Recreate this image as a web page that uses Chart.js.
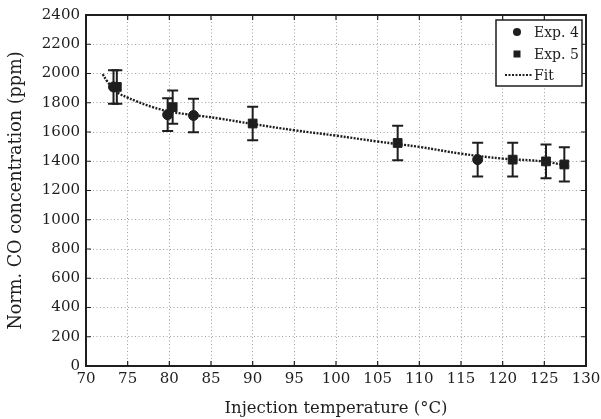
<!DOCTYPE html>
<html>
<head>
<meta charset="utf-8">
<script src="https://cdn.jsdelivr.net/npm/chart.js@4/dist/chart.umd.min.js"></script>
<style>
  html, body { margin: 0; padding: 0; background: #fff; }
  #wrap { width: 601px; height: 419px; }
</style>
</head>
<body>
<div id="wrap"><canvas id="chart"></canvas></div>
<script>
// Exp. 4 (circles)
const exp4Temp = [73.3, 79.8, 82.9, 117.0];
const exp4CO = [1908, 1718, 1713, 1411];
const exp4Err = [114, 112, 115, 116];

// Exp. 5 (squares)
const exp5Temp = [73.7, 80.4, 90.0, 107.4, 121.2, 125.2, 127.4];
const exp5CO = [1908, 1770, 1658, 1525, 1411, 1399, 1378];
const exp5Err = [114, 114, 114, 118, 116, 115, 117];

// Fit curve
const fitTemp = [72, 72.5, 73, 73.5, 74, 75, 76, 78, 80, 82, 84, 86, 90, 95, 100, 105, 110, 115, 120, 125, 128];
const fitCO = [1995, 1950, 1915, 1885, 1862, 1835, 1811, 1770, 1740, 1722, 1708, 1692, 1655, 1612, 1575, 1535, 1498, 1452, 1418, 1398, 1365];

const legendLabels = ["Exp. 4", "Exp. 5", "Fit"];

const FONT = "'DejaVu Serif', serif";
const INK = "#1e1e1e";

const toPoints = (xs, ys) => xs.map((x, i) => ({ x: x, y: ys[i] }));

// error bars drawn through the scales
const errorBars = {
    id: "errorBars",
    afterDatasetsDraw(chart) {
        const { ctx, scales: { x, y } } = chart;
        const sets = [[exp4Temp, exp4CO, exp4Err], [exp5Temp, exp5CO, exp5Err]];
        ctx.save();
        ctx.strokeStyle = INK;
        ctx.lineWidth = 2;
        sets.forEach(([xs, ys, es]) => {
            xs.forEach((t, i) => {
                const px = x.getPixelForValue(t);
                const top = y.getPixelForValue(ys[i] + es[i]);
                const bot = y.getPixelForValue(ys[i] - es[i]);
                ctx.beginPath();
                ctx.moveTo(px, top); ctx.lineTo(px, bot);
                ctx.moveTo(px - 5.5, top); ctx.lineTo(px + 5.5, top);
                ctx.moveTo(px - 5.5, bot); ctx.lineTo(px + 5.5, bot);
                ctx.stroke();
            });
        });
        ctx.restore();
    }
};

// box round the plot plus inward ticks on all four sides
const frame = {
    id: "frame",
    afterDraw(chart) {
        const { ctx, chartArea: a, scales: { x, y } } = chart;
        ctx.save();
        ctx.strokeStyle = INK;
        ctx.lineWidth = 2;
        ctx.strokeRect(a.left, a.top, a.right - a.left, a.bottom - a.top);
        ctx.lineWidth = 1.2;
        ctx.beginPath();
        x.ticks.forEach(t => {
            const px = x.getPixelForValue(t.value);
            ctx.moveTo(px, a.bottom); ctx.lineTo(px, a.bottom - 5);
            ctx.moveTo(px, a.top); ctx.lineTo(px, a.top + 5);
        });
        y.ticks.forEach(t => {
            const py = y.getPixelForValue(t.value);
            ctx.moveTo(a.left, py); ctx.lineTo(a.left + 5, py);
            ctx.moveTo(a.right, py); ctx.lineTo(a.right - 5, py);
        });
        ctx.stroke();
        ctx.restore();
    }
};

// legend box in the top right corner
const boxLegend = {
    id: "boxLegend",
    afterDraw(chart) {
        const { ctx, chartArea: a } = chart;
        const right = a.right - 4, top = a.top + 5, w = 86, h = 66;
        const left = right - w;
        ctx.save();
        ctx.fillStyle = "#fff";
        ctx.fillRect(left, top, w, h);
        ctx.strokeStyle = INK;
        ctx.lineWidth = 1.5;
        ctx.strokeRect(left, top, w, h);

        const sx = left + 21, tx = left + 38;
        const rows = [top + 12, top + 34, top + 55];
        ctx.fillStyle = INK;
        // circle
        ctx.beginPath();
        ctx.arc(sx, rows[0], 4, 0, Math.PI * 2);
        ctx.fill();
        // square
        ctx.fillRect(sx - 3.5, rows[1] - 3.5, 7, 7);
        // dotted line
        ctx.setLineDash([2, 1.5]);
        ctx.lineWidth = 2;
        ctx.beginPath();
        ctx.moveTo(left + 9, rows[2]); ctx.lineTo(left + 36, rows[2]);
        ctx.stroke();
        ctx.setLineDash([]);

        ctx.font = "14px " + FONT;
        ctx.textBaseline = "middle";
        ctx.textAlign = "left";
        legendLabels.forEach((l, i) => ctx.fillText(l, tx, rows[i] + 1));
        ctx.restore();
    }
};

const gridStyle = {
    color: "#a0a0a0",
    lineWidth: 1,
    drawTicks: false
};

new Chart(document.getElementById("chart"), {
    type: "scatter",
    plugins: [errorBars, frame, boxLegend],
    data: {
        datasets: [
            {
                label: legendLabels[2],
                type: "line",
                data: toPoints(fitTemp, fitCO),
                borderColor: INK,
                borderWidth: 2.4,
                borderDash: [2, 1.4],
                pointRadius: 0,
                tension: 0.4,
                fill: false
            },
            {
                label: legendLabels[0],
                data: toPoints(exp4Temp, exp4CO),
                pointStyle: "circle",
                pointRadius: 5,
                backgroundColor: INK,
                borderColor: INK
            },
            {
                label: legendLabels[1],
                data: toPoints(exp5Temp, exp5CO),
                pointStyle: "rect",
                pointRadius: 6.2,
                backgroundColor: INK,
                borderColor: INK
            }
        ]
    },
    options: {
        responsive: true,
        maintainAspectRatio: false,
        animation: false,
        layout: { padding: { top: 15, right: 15, left: 0, bottom: 0 } },
        plugins: {
            legend: { display: false },
            tooltip: { enabled: false }
        },
        scales: {
            x: {
                type: "linear",
                min: 70,
                max: 130,
                ticks: {
                    stepSize: 5,
                    color: INK,
                    font: { family: FONT, size: 15 },
                    padding: 4,
                    maxRotation: 0,
                    callback: v => String(v)
                },
                grid: gridStyle,
                border: { display: false, dash: [1, 2.5] },
                title: {
                    display: true,
                    text: "Injection temperature (°C)",
                    color: INK,
                    font: { family: FONT, size: 16.5 },
                    padding: { top: 9, bottom: 0 }
                },
                afterFit: s => {
                    s.height = 53;
                    s.paddingRight = 10;
                }
            },
            y: {
                min: 0,
                max: 2400,
                ticks: {
                    stepSize: 200,
                    color: INK,
                    font: { family: FONT, size: 15 },
                    padding: 6,
                    callback: v => String(v)
                },
                grid: gridStyle,
                border: { display: false, dash: [1, 2.5] },
                title: {
                    display: true,
                    text: "Norm. CO concentration (ppm)",
                    color: INK,
                    font: { family: FONT, size: 17.6 },
                    padding: { top: 6, bottom: 4 }
                },
                afterFit: s => { s.width = 86; }
            }
        }
    }
});
</script>
</body>
</html>
